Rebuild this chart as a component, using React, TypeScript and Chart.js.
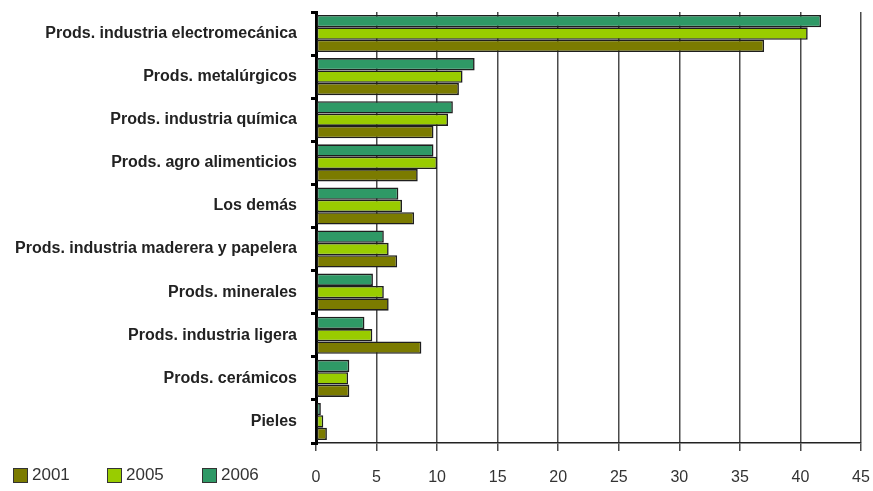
import React, { useEffect, useRef } from "react";
import { Chart, registerables } from "chart.js";

Chart.register(...registerables);

const categories = [
  "Prods. industria electromecánica",
  "Prods. metalúrgicos",
  "Prods. industria química",
  "Prods. agro alimenticios",
  "Los demás",
  "Prods. industria maderera y papelera",
  "Prods. minerales",
  "Prods. industria ligera",
  "Prods. cerámicos",
  "Pieles",
];

const values2006 = [41.7, 13.1, 11.3, 9.7, 6.8, 5.6, 4.7, 4.0, 2.75, 0.4];
const values2005 = [40.6, 12.1, 10.9, 10.0, 7.1, 6.0, 5.6, 4.65, 2.65, 0.6];
const values2001 = [37.0, 11.8, 9.7, 8.4, 8.1, 6.7, 6.0, 8.7, 2.75, 0.9];

const xTicks = [0, 5, 10, 15, 20, 25, 30, 35, 40, 45];

const colors = { y2001: "#7b7b00", y2005: "#99cc00", y2006: "#2f9966" };

const legendItems = [
  { label: "2001", color: colors.y2001, boxX: 13, textX: 32 },
  { label: "2005", color: colors.y2005, boxX: 107, textX: 126 },
  { label: "2006", color: colors.y2006, boxX: 202, textX: 221 },
];

const FONT = "'Liberation Sans', Arial, sans-serif";

const zeroPadding = (scale: any) => {
  scale.paddingLeft = 0;
  scale.paddingRight = 0;
  scale.paddingTop = 0;
  scale.paddingBottom = 0;
};

export default function App() {
  const ref = useRef<HTMLCanvasElement | null>(null);

  useEffect(() => {
    if (!ref.current) return;
    const chart = new Chart(ref.current, {
      type: "bar",
      data: {
        labels: categories,
        datasets: [
          { label: "2006", data: values2006, backgroundColor: colors.y2006 },
          { label: "2005", data: values2005, backgroundColor: colors.y2005 },
          { label: "2001", data: values2001, backgroundColor: colors.y2001 },
        ].map((d) => ({
          ...d,
          borderColor: "#1e1e1e",
          borderWidth: 1.6,
          borderSkipped: false,
          categoryPercentage: 0.86,
          barPercentage: 1.0,
        })),
      },
      options: {
        indexAxis: "y",
        animation: false,
        responsive: true,
        maintainAspectRatio: false,
        layout: { padding: { top: 12, right: 12, left: 0, bottom: 0 } },
        plugins: {
          legend: { display: false },
          tooltip: { enabled: false },
        },
        scales: {
          x: {
            type: "linear",
            min: xTicks[0],
            max: xTicks[xTicks.length - 1],
            afterBuildTicks: (scale: any) => {
              scale.ticks = xTicks.map((v) => ({ value: v }));
            },
            afterFit: (scale: any) => {
              scale.height = 48;
              zeroPadding(scale);
            },
            grid: {
              color: "#4a4a4a",
              lineWidth: 1.5,
              tickLength: 8,
              drawTicks: true,
            },
            border: { color: "#222", width: 1.5 },
            ticks: {
              color: "#333",
              padding: 17,
              font: { family: FONT, size: 16 },
            },
          },
          y: {
            type: "category",
            afterFit: (scale: any) => {
              scale.width = 316;
              zeroPadding(scale);
            },
            grid: {
              offset: true,
              drawOnChartArea: false,
              color: "#000",
              lineWidth: 3,
              tickLength: 5,
            },
            border: { color: "#000", width: 3 },
            ticks: {
              color: "#222",
              padding: 14,
              font: { family: FONT, size: 16, weight: "bold" },
            },
          },
        },
      },
    } as any);
    return () => chart.destroy();
  }, []);

  return (
    <div
      style={{
        position: "absolute",
        left: 0,
        top: 0,
        width: 873,
        height: 491,
        background: "#fff",
      }}
    >
      <canvas ref={ref} />
      {legendItems.map((it) => (
        <React.Fragment key={it.label}>
          <div
            style={{
              position: "absolute",
              left: it.boxX,
              top: 468,
              width: 13,
              height: 13,
              background: it.color,
              border: "1px solid #333",
            }}
          />
          <div
            style={{
              position: "absolute",
              left: it.textX,
              top: 465,
              fontFamily: FONT,
              fontSize: 17,
              lineHeight: "20px",
              color: "#333",
            }}
          >
            {it.label}
          </div>
        </React.Fragment>
      ))}
    </div>
  );
}
